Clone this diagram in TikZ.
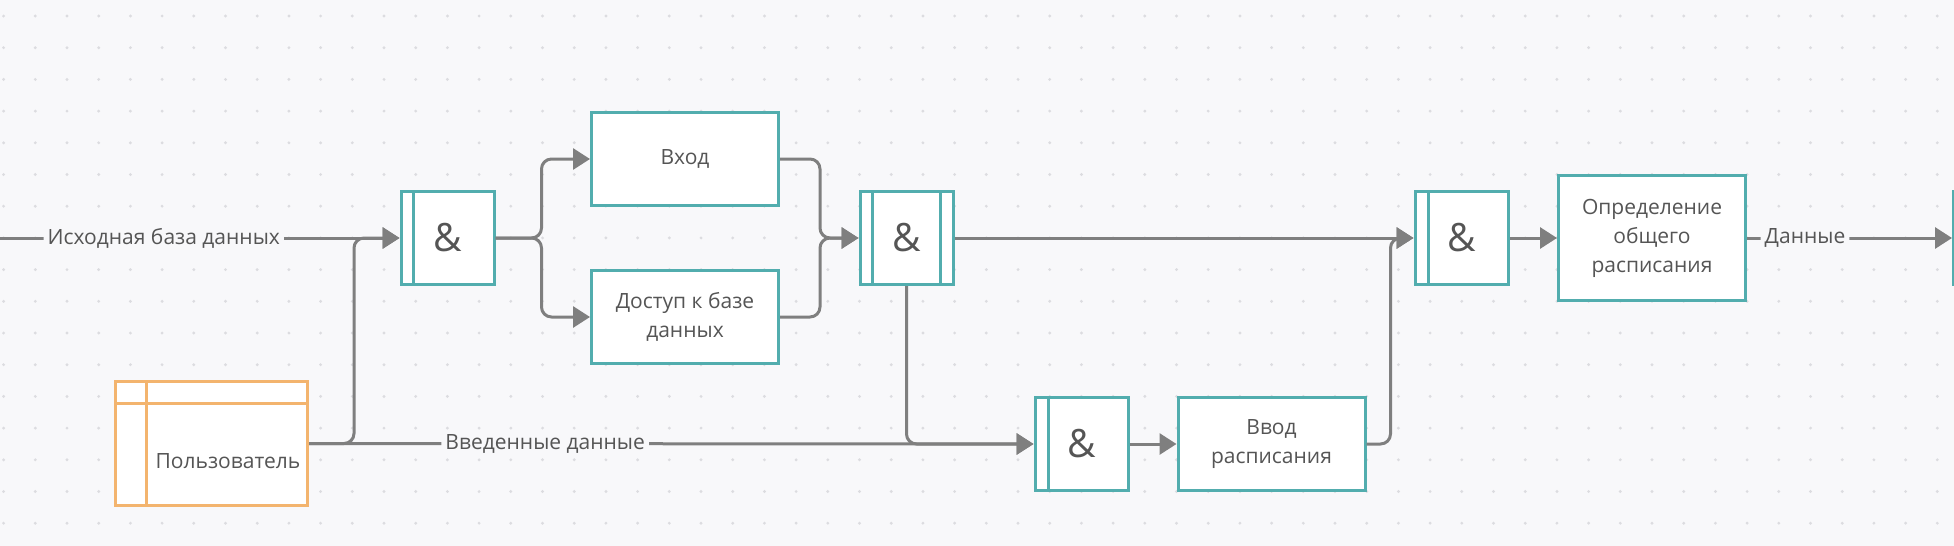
\documentclass[tikz,border=0pt]{standalone}
\usepackage{fontspec}
\setmainfont{Open Sans}
\usetikzlibrary{arrows.meta,calc}
\definecolor{bg}{HTML}{F8F8FA}
\definecolor{dotc}{HTML}{DCDCE0}
\definecolor{teal2}{HTML}{52ADAE}
\definecolor{orng}{HTML}{F3B46E}
\definecolor{linegray}{HTML}{7F7F7F}
\definecolor{textgray}{HTML}{555555}
\tikzset{
  conn/.style={draw=linegray, line width=3pt, rounded corners=10pt, -{Triangle[length=17pt,width=21pt]}},
  procbox/.style={draw=teal2, fill=white, line width=3pt, minimum width=187pt, minimum height=93pt, align=center, text=textgray, font=\fontsize{21}{29}\selectfont, inner sep=2pt},
  gatebox/.style={draw=teal2, fill=white, line width=3pt, minimum width=93pt, minimum height=93pt, text=textgray, font=\fontsize{39}{40}\selectfont, inner sep=0pt},
  gateline/.style={draw=teal2, line width=3pt},
  userbox/.style={draw=orng, fill=white, line width=3pt, minimum width=192pt, minimum height=124pt, inner sep=0pt},
  userline/.style={draw=orng, line width=3pt},
  lbl/.style={fill=bg, text=textgray, font=\fontsize{21}{29}\selectfont, inner sep=4pt},
  plaintext/.style={text=textgray, font=\fontsize{21}{29}\selectfont, inner sep=0pt}
}
\begin{document}
\begin{tikzpicture}[x=1pt,y=-1pt]
\useasboundingbox (0,0) rectangle (1954,546);
\fill[bg] (0,0) rectangle (1954,546);
\clip (0,0) rectangle (1954,546);
\foreach \i in {0,...,61}{
  \foreach \j in {0,...,16}{
    \fill[dotc] (3.6+31.7*\i,16+31.7*\j) circle (1.6pt);
  }
}
% nodes
\node[gatebox] (g1) at (447.5,238) {\&};
\node[procbox] (vhod) at (685,159) {Вход};
\node[procbox] (dostup) at (685,317) {Доступ к базе\\данных};
\node[gatebox] (g2) at (906.5,238) {\&};
\node[gatebox] (g3) at (1461.5,238) {\&};
\node[procbox, minimum height=125pt] (opr) at (1652,238) {Определение\\общего\\расписания};
\node[gatebox] (g4) at (1081.5,444) {\&};
\node[procbox] (vvod) at (1271.5,444) {Ввод\\расписания};
\node[gatebox, anchor=west] (g5) at (1952,238) {};
\node[userbox] (usr) at (211.5,443.5) {};
\node[plaintext] (usrtext) at (228,461) {Пользователь};
\coordinate (start) at (0,238);
% inner lines
\draw[gateline] ([xshift=14pt]g1.north west) -- ([xshift=14pt]g1.south west);
\draw[gateline] ([xshift=14pt]g2.north west) -- ([xshift=14pt]g2.south west);
\draw[gateline] ([xshift=-14pt]g2.north east) -- ([xshift=-14pt]g2.south east);
\draw[gateline] ([xshift=15pt]g3.north west) -- ([xshift=15pt]g3.south west);
\draw[gateline] ([xshift=15pt]g4.north west) -- ([xshift=15pt]g4.south west);
\draw[userline] ([yshift=-23pt]usr.north west) -- ([yshift=-23pt]usr.north east);
\draw[userline] ([xshift=32pt]usr.north west) -- ([xshift=32pt]usr.south west);
% connectors
\draw[conn] (usr.east) -- ++(45,0) |- (g1.west);
\draw[conn] (start) -- node[lbl, pos=0.41] (lblsrc) {Исходная база данных} (g1.west);
\draw[conn] (usr.east) -- node[lbl, pos=0.326] (lblin) {Введенные данные} (g4.west);
\draw[conn] (g1.east) -- ++(46,0) |- (vhod.west);
\draw[conn] (g1.east) -- ++(46,0) |- (dostup.west);
\draw[conn] (vhod.east) -- ++(40,0) |- (g2.west);
\draw[conn] (dostup.east) -- ++(40,0) |- (g2.west);
\draw[conn] (g2.east) -- (g3.west);
\draw[conn] (g2.south) |- (g4.west);
\draw[conn] (g4.east) -- (vvod.west);
\draw[conn] (vvod.east) -- ++(24,0) |- (g3.west);
\draw[conn] (g3.east) -- (opr.west);
\draw[conn] (opr.east) -- node[lbl, pos=0.283] (lbldata) {Данные} (g5.west);
\end{tikzpicture}
\end{document}
